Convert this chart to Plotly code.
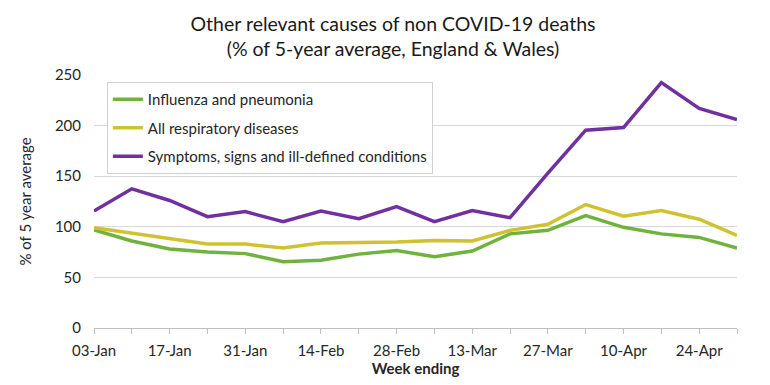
import plotly.graph_objects as go

weeks = ["03-Jan", "10-Jan", "17-Jan", "24-Jan", "31-Jan", "07-Feb", "14-Feb", "21-Feb",
         "28-Feb", "06-Mar", "13-Mar", "20-Mar", "27-Mar", "03-Apr", "10-Apr", "17-Apr",
         "24-Apr", "01-May"]
influenza = [97, 86, 78, 75, 73.5, 65.5, 67, 73, 76.5, 70.5, 76, 93, 96.5, 111, 99.5, 93, 89.5, 79]
respiratory = [99, 93.5, 88, 83, 83, 79, 84, 84.5, 85, 86.5, 86, 96.5, 102.5, 122, 110.5, 116, 107.5, 91.5]
symptoms = [115.5, 137.5, 126, 110, 115, 105, 115.5, 108, 120, 105, 116, 109, 153, 195.5, 198, 242.5, 217, 206]
tick_labels = [w if i % 2 == 0 else "" for i, w in enumerate(weeks)]

fig = go.Figure()
series = [
    ("Influenza and pneumonia", influenza, "#6fb23e"),
    ("All respiratory diseases", respiratory, "#cfc230"),
    ("Symptoms, signs and ill-defined conditions", symptoms, "#7030a0"),
]
for i, (name, vals, col) in enumerate(series):
    fig.add_trace(go.Scatter(x=weeks, y=vals, name=name, mode="lines",
                             line=dict(color=col, width=3.5), legendgroup=str(i)))

font = "Lato, 'Noto Sans', sans-serif"
fig.update_layout(
    width=770, height=385,
    margin=dict(l=86, r=41, t=67, b=65),
    paper_bgcolor="white", plot_bgcolor="white",
    font=dict(family=font, size=15, color="#262626"),
    title=dict(text="Other relevant causes of non COVID-19 deaths<br>(% of 5-year average, England & Wales)",
               x=0.5, xanchor="center", y=0.94, yanchor="middle",
               font=dict(size=19.5, color="#1a1a1a")),
    showlegend=True,
    legend=dict(x=0.02, y=0.972, xanchor="left", yanchor="top",
                bgcolor="white", bordercolor="#d0d0d0", borderwidth=1,
                font=dict(size=15), tracegroupgap=6, traceorder="grouped"),
    xaxis=dict(type="category", categoryorder="array", categoryarray=weeks,
               range=[0, len(weeks) - 1], tickmode="array", tickvals=weeks, ticktext=tick_labels,
               showgrid=False, showline=True, linecolor="#bfbfbf", linewidth=1,
               ticks="outside", ticklen=5, tickcolor="#bfbfbf", tickangle=0,
               ticklabelstandoff=4,
               title=dict(text="<b>Week ending</b>", standoff=0, font=dict(size=15)),
               zeroline=False),
    yaxis=dict(range=[0, 250], dtick=50, showgrid=True, gridcolor="#d9d9d9", gridwidth=1,
               zeroline=False, showline=False, ticks="", ticklabelstandoff=12,
               title=dict(text="% of 5 year average", standoff=19, font=dict(size=15))),
)

fig.write_html("out.html")
